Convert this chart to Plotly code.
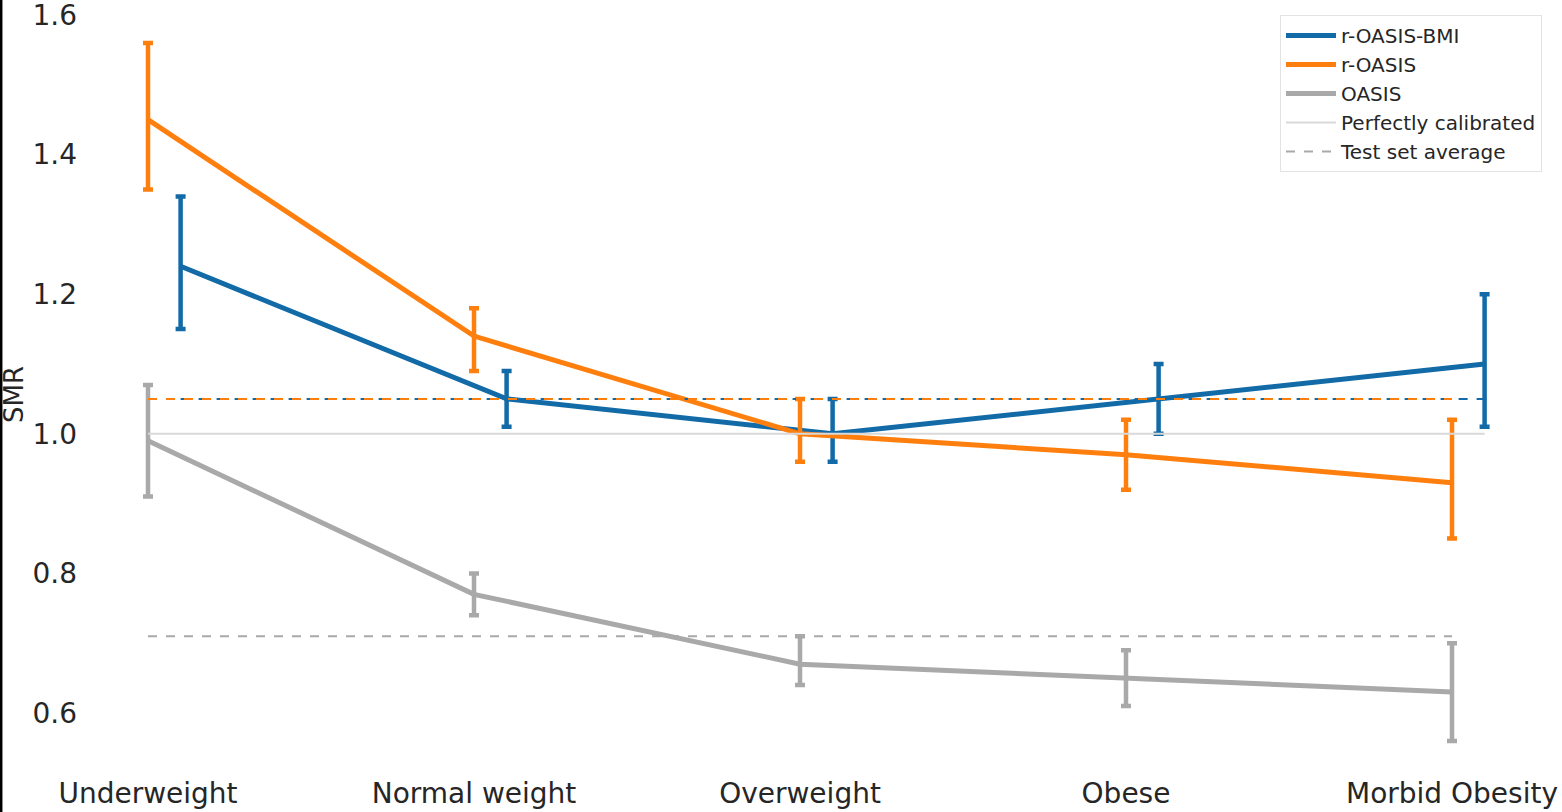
import plotly.graph_objects as go

categories = ["Underweight", "Normal weight", "Overweight", "Obese", "Morbid Obesity"]
cat_pos = [0, 1, 2, 3, 4]

bmi_vals = [1.24, 1.05, 1.00, 1.05, 1.10]
bmi_lo = [1.15, 1.01, 0.96, 1.00, 1.01]
bmi_hi = [1.34, 1.09, 1.05, 1.10, 1.20]

roasis_vals = [1.45, 1.14, 1.00, 0.97, 0.93]
roasis_lo = [1.35, 1.09, 0.96, 0.92, 0.85]
roasis_hi = [1.56, 1.18, 1.05, 1.02, 1.02]

oasis_vals = [0.99, 0.77, 0.67, 0.65, 0.63]
oasis_lo = [0.91, 0.74, 0.64, 0.61, 0.56]
oasis_hi = [1.07, 0.80, 0.71, 0.69, 0.70]

test_avg_bmi = 1.05
test_avg_roasis = 1.05
test_avg_oasis = 0.71
perfect = 1.0
bmi_offset = 0.1

BLUE = "#126aa7"
ORANGE = "#ff7f0e"
GRAY = "#a9a9a9"
LIGHT = "#d9d9d9"

fig = go.Figure()

def add_series(name, xs, vals, lo, hi, color):
    fig.add_trace(go.Scatter(
        x=xs, y=vals, mode="lines", name=name,
        line=dict(color=color, width=5),
        error_y=dict(type="data", symmetric=False,
                     array=[h - v for h, v in zip(hi, vals)],
                     arrayminus=[v - l for v, l in zip(vals, lo)],
                     color=color, thickness=4.5, width=5),
    ))

bmi_x = [p + bmi_offset for p in cat_pos]
add_series("r-OASIS-BMI", bmi_x, bmi_vals, bmi_lo, bmi_hi, BLUE)
add_series("r-OASIS", cat_pos, roasis_vals, roasis_lo, roasis_hi, ORANGE)
add_series("OASIS", cat_pos, oasis_vals, oasis_lo, oasis_hi, GRAY)

fig.add_trace(go.Scatter(
    x=[cat_pos[0], bmi_x[-1]], y=[perfect, perfect], mode="lines",
    name="Perfectly calibrated", line=dict(color=LIGHT, width=2)))

fig.add_trace(go.Scatter(
    x=[bmi_x[0], bmi_x[-1]], y=[test_avg_bmi, test_avg_bmi], mode="lines",
    showlegend=False, line=dict(color=BLUE, width=2, dash="dash")))
fig.add_trace(go.Scatter(
    x=[cat_pos[0], cat_pos[-1]], y=[test_avg_roasis, test_avg_roasis], mode="lines",
    showlegend=False, line=dict(color=ORANGE, width=2, dash="dash")))
fig.add_trace(go.Scatter(
    x=[cat_pos[0], cat_pos[-1]], y=[test_avg_oasis, test_avg_oasis], mode="lines",
    name="Test set average", line=dict(color=GRAY, width=2, dash="dash")))

L, T, B = 78, 2, 38
W, H = 1562, 812
pw = W - L
ph = H - T - B
XPX = 326.0   # pixels per category
YPX = 698.0   # pixels per SMR unit
xmin = -(148 - L) / XPX
ytop = 1.6 + (15 - T) / YPX

fig.update_layout(
    width=W, height=H,
    margin=dict(l=L, r=0, t=T, b=B),
    plot_bgcolor="white", paper_bgcolor="white",
    font=dict(family="DejaVu Sans", color="#262626"),
    showlegend=True,
    legend=dict(x=(1542 - L) / pw, y=1 - (15 - T) / ph, xanchor="right", yanchor="top",
                bgcolor="rgba(255,255,255,0.9)", bordercolor="#e3e3e3", borderwidth=1,
                font=dict(size=20, family="DejaVu Sans", color="#262626"),
                itemwidth=50),
    xaxis=dict(range=[xmin, xmin + pw / XPX], tickvals=cat_pos,
               ticktext=categories, showgrid=False, zeroline=False, showline=False,
               ticks="", tickfont=dict(size=28), ticklabeloverflow="allow"),
    yaxis=dict(range=[ytop - ph / YPX, ytop],
               tickvals=[0.6, 0.8, 1.0, 1.2, 1.4, 1.6],
               ticktext=["0.6", "0.8", "1.0", "1.2", "1.4", "1.6"],
               showgrid=False, zeroline=False, showline=False, ticks="",
               tickfont=dict(size=28), ticklabeloverflow="allow"),
    annotations=[dict(text="SMR", textangle=-90, xref="paper", yref="paper",
                      x=(14 - L) / pw, y=1 - (395 - T) / ph, xanchor="center", yanchor="middle",
                      showarrow=False, font=dict(size=26, color="#262626"))],
    shapes=[dict(type="line", xref="paper", yref="paper",
                 x0=(1.2 - L) / pw, x1=(1.2 - L) / pw, y0=-B / ph, y1=1 + T / ph,
                 line=dict(color="black", width=2.5))],
)

fig.write_html("out.html", config={"displayModeBar": False},
               post_script="document.body.style.margin='0';document.body.style.overflow='hidden';")
